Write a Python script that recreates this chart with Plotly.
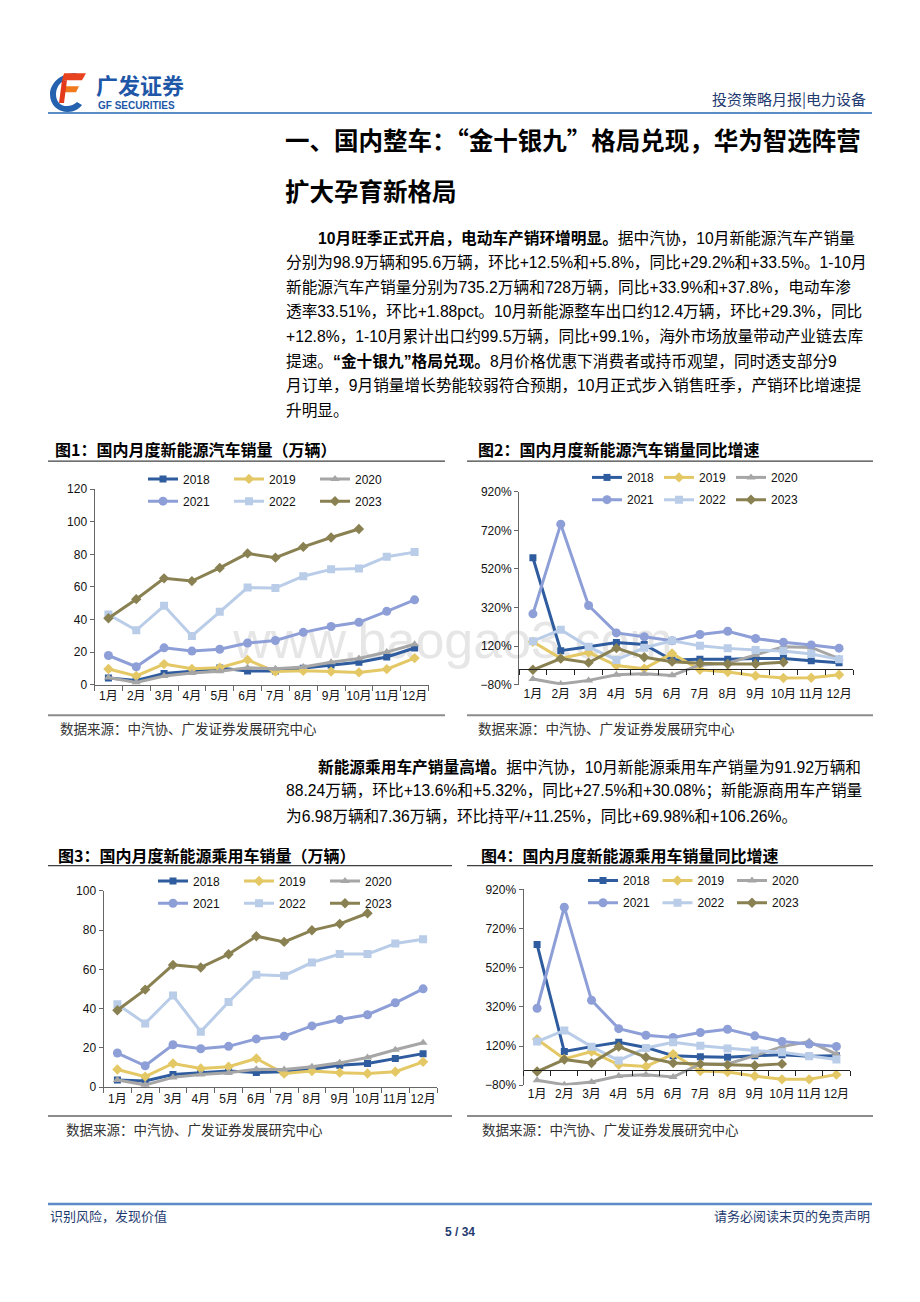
import plotly.graph_objects as go

W, H = 920, 1302          # browser window
OFF = 8                   # default page margin around the plot div
FW, FH = W - 2 * OFF, H - 2 * OFF

# ---------------- data ----------------
months = ["1月", "2月", "3月", "4月", "5月", "6月", "7月", "8月", "9月", "10月", "11月", "12月"]
years = ["2018", "2019", "2020", "2021", "2022", "2023"]

# 图1 国内月度新能源汽车销量（万辆）
nev_2018 = [4.1, 2.5, 6.8, 8.2, 10.2, 8.4, 8.4, 10.1, 12.1, 13.8, 17.0, 22.5]
nev_2019 = [9.6, 5.3, 12.6, 9.7, 10.4, 15.2, 8.0, 8.5, 8.0, 7.5, 9.5, 16.3]
nev_2020 = [4.4, 1.3, 5.3, 7.2, 8.2, 10.4, 9.8, 10.9, 13.8, 16.0, 20.0, 24.8]
nev_2021 = [17.9, 11.0, 22.6, 20.6, 21.7, 25.6, 27.1, 32.1, 35.7, 38.3, 45.0, 52.1]
nev_2022 = [43.1, 33.4, 48.4, 29.9, 44.7, 59.6, 59.3, 66.6, 70.8, 71.4, 78.6, 81.4]
nev_2023 = [40.8, 52.5, 65.3, 63.6, 71.7, 80.6, 78.0, 84.6, 90.4, 95.6]

# 图2 国内月度新能源汽车销量同比增速（%）
yoy_2018 = [578, 96, 116, 138, 128, 48, 51, 51, 56, 55, 44, 34]
yoy_2019 = [142, 56, 87, 19, 3, 82, -3, -15, -34, -46, -44, -29]
yoy_2020 = [-51, -77, -58, -29, -24, -32, 22, 31, 74, 116, 113, 55]
yoy_2021 = [287, 752, 330, 188, 168, 147, 180, 197, 159, 140, 126, 109]
yoy_2022 = [145, 205, 116, 48, 111, 147, 121, 108, 99, 94, 79, 51]
yoy_2023 = [-3, 55, 34, 109, 62, 39, 31, 27, 27, 36]

# 图3 国内月度新能源乘用车销量（万辆）
pv_2018 = [3.7, 3.2, 6.5, 7.5, 8.2, 7.5, 7.9, 9.2, 11.2, 12.1, 14.6, 17.1]
pv_2019 = [9.0, 5.4, 12.1, 9.5, 10.4, 14.6, 7.0, 8.2, 7.4, 7.0, 7.9, 12.9]
pv_2020 = [3.7, 1.2, 5.0, 6.5, 7.4, 9.2, 9.0, 10.4, 12.4, 15.1, 19.1, 22.6]
pv_2021 = [17.4, 10.9, 21.6, 19.6, 20.8, 24.6, 26.0, 31.2, 34.5, 36.9, 43.0, 50.1]
pv_2022 = [42.2, 32.5, 46.7, 28.3, 43.4, 57.3, 56.8, 63.5, 67.8, 67.8, 73.2, 75.4]
pv_2023 = [39.2, 49.7, 62.3, 61.0, 67.7, 76.9, 74.0, 79.9, 83.2, 88.6]

# 图4 国内月度新能源乘用车销量同比增速（%）
pyoy_2018 = [638, 92, 117, 139, 113, 71, 66, 63, 71, 76, 68, 71]
pyoy_2019 = [155, 54, 92, 24, 16, 79, -8, -13, -33, -50, -50, -26]
pyoy_2020 = [-55, -77, -63, -33, -26, -38, 29, 29, 71, 117, 143, 79]
pyoy_2021 = [313, 829, 354, 209, 175, 164, 189, 206, 172, 143, 130, 118]
pyoy_2022 = [143, 200, 117, 46, 110, 139, 122, 108, 97, 88, 68, 51]
pyoy_2023 = [-10, 51, 33, 117, 63, 33, 29, 24, 21, 29]

# ---------------- styles ----------------
STY = {
    "2018": dict(color="#2E5C9E", symbol="square", size=7),
    "2019": dict(color="#E4C865", symbol="diamond", size=8),
    "2020": dict(color="#A6A6A6", symbol="triangle-up", size=8),
    "2021": dict(color="#8E9FD8", symbol="circle", size=9),
    "2022": dict(color="#B9CCE8", symbol="square", size=8),
    "2023": dict(color="#8A8152", symbol="diamond", size=8),
}
LAT = "Liberation Sans, Arial, Noto Sans CJK SC, sans-serif"
CJK = "Noto Sans CJK SC, sans-serif"
AX = "#666666"
TF = dict(family=LAT, size=12, color="#111111")


def px(x):
    return (x - OFF) / FW


def py(y):
    return 1 - (y - OFF) / FH


fig = go.Figure()

# watermark (beneath the charts), on a full-page pixel axis
fig.add_trace(go.Scatter(x=[453], y=[645], mode="text", text=["www.baogao3.com"],
                         textfont=dict(family="Liberation Sans", size=52, color="#E6E6E6"),
                         xaxis="x", yaxis="y", showlegend=False, hoverinfo="skip", cliponaxis=False))

charts = [
    ("x2", "y2", [nev_2018, nev_2019, nev_2020, nev_2021, nev_2022, nev_2023], ("legend", "legend2")),
    ("x3", "y3", [yoy_2018, yoy_2019, yoy_2020, yoy_2021, yoy_2022, yoy_2023], ("legend3", "legend4")),
    ("x4", "y4", [pv_2018, pv_2019, pv_2020, pv_2021, pv_2022, pv_2023], ("legend5", "legend6")),
    ("x5", "y5", [pyoy_2018, pyoy_2019, pyoy_2020, pyoy_2021, pyoy_2022, pyoy_2023], ("legend7", "legend8")),
]
for xa, ya, series, legs in charts:
    for i, (yr, vals) in enumerate(zip(years, series)):
        s = STY[yr]
        fig.add_trace(go.Scatter(
            x=months[:len(vals)], y=vals, name=yr, mode="lines+markers",
            line=dict(color=s["color"], width=3),
            marker=dict(color=s["color"], symbol=s["symbol"], size=s["size"]),
            xaxis=xa, yaxis=ya, legend=legs[0] if i < 3 else legs[1],
            hoverinfo="skip"))

# helper traces so that the zero-line overlay axes exist
fig.add_trace(go.Scatter(x=[0], y=[None], xaxis="x6", yaxis="y3", showlegend=False, hoverinfo="skip"))
fig.add_trace(go.Scatter(x=[0], y=[None], xaxis="x7", yaxis="y5", showlegend=False, hoverinfo="skip"))

# plot areas in page pixels
D1 = dict(x=(94.5, 428.5), y=(487.5, 685.0))
D2 = dict(x=(519.0, 853.0), y=(490.0, 685.0))
D3 = dict(x=(103.5, 437.0), y=(893.5, 1092.0))
D4 = dict(x=(523.5, 850.0), y=(892.0, 1090.0))


def xdom(d):
    return [px(d["x"][0]), px(d["x"][1])]


def ydom(d):
    return [py(d["y"][1]), py(d["y"][0])]


def xcat(d, anchor, visible_line=True):
    a = dict(domain=xdom(d), type="category", categoryorder="array", categoryarray=months,
             range=[-0.5, 11.5], showgrid=False, zeroline=False, tickfont=TF, anchor=anchor,
             fixedrange=True, tickson="boundaries", tickangle=0)
    if visible_line:
        a.update(showline=True, linecolor=AX, linewidth=1, ticks="outside", ticklen=5, tickcolor=AX)
    else:
        a.update(showline=False, ticks="outside", ticklen=6, tickcolor="rgba(0,0,0,0)")
    return a


def yax(d, rng, dtick, suffix, anchor):
    return dict(domain=ydom(d), range=rng, tick0=rng[0], dtick=dtick, ticksuffix=suffix,
                showline=True, linecolor=AX, linewidth=1, ticks="outside", ticklen=4, tickcolor=AX,
                showgrid=False, zeroline=False, tickfont=TF, anchor=anchor, fixedrange=True)


def zero_axis(d, rng, overlay):
    y0p, y1p = ydom(d)
    pos = y0p + (0 - rng[0]) / (rng[1] - rng[0]) * (y1p - y0p)
    return dict(overlaying=overlay, anchor="free", position=pos, type="linear", range=[-0.5, 11.5],
                tickvals=[i - 0.5 for i in range(13)], showticklabels=False, ticks="outside", ticklen=5,
                tickcolor="#222222", showline=True, linecolor="#222222", linewidth=1.3,
                showgrid=False, zeroline=False, fixedrange=True)


R_PCT = [-80, 920]
layout = dict(
    width=FW, height=FH, margin=dict(l=0, r=0, t=0, b=0),
    paper_bgcolor="white", plot_bgcolor="rgba(0,0,0,0)", showlegend=True,
    xaxis=dict(domain=[0, 1], range=[OFF, OFF + FW], visible=False, fixedrange=True),
    yaxis=dict(domain=[0, 1], range=[OFF + FH, OFF], visible=False, fixedrange=True),
    xaxis2=xcat(D1, "y2"), yaxis2=yax(D1, [0, 120], 20, "", "x2"),
    xaxis3=xcat(D2, "y3", False), yaxis3=yax(D2, R_PCT, 200, "%", "x3"),
    xaxis4=xcat(D3, "y4"), yaxis4=yax(D3, [0, 100], 20, "", "x4"),
    xaxis5=xcat(D4, "y5", False), yaxis5=yax(D4, R_PCT, 200, "%", "x5"),
    xaxis6=zero_axis(D2, R_PCT, "x3"),
    xaxis7=zero_axis(D4, R_PCT, "x5"),
)


def leg(text_left, ycen, ew):
    # legend item text starts 40px after the legend's left edge
    return dict(x=px(text_left - 40), y=py(ycen), xanchor="left", yanchor="middle", orientation="h",
                entrywidth=ew, entrywidthmode="pixels", font=dict(family=LAT, size=12, color="#111"),
                bgcolor="rgba(0,0,0,0)", borderwidth=0, itemwidth=30, traceorder="normal",
                itemclick=False, itemdoubleclick=False)


layout.update(
    legend=leg(183, 477, 41), legend2=leg(183, 499.5, 41),
    legend3=leg(627, 475.5, 27), legend4=leg(627, 498, 27),
    legend5=leg(193, 883.5, 41), legend6=leg(193, 906, 41),
    legend7=leg(623, 883, 29.5), legend8=leg(623, 905.5, 29.5),
)
fig.update_layout(**layout)

# ---------------- text ----------------
ann = []


def txt(x, y, s, size=13, color="#000", family=CJK, xanchor="left"):
    ann.append(dict(x=px(x), y=py(y), xref="paper", yref="paper", text=s, showarrow=False,
                    xanchor=xanchor, yanchor="middle", font=dict(family=family, size=size, color=color)))


NAVY = "#1F3B70"
BLUE = "#1E57A8"
txt(94, 78, "<b>广发证券</b>", 22, BLUE, CJK)
txt(96, 99, "<b>GF SECURITIES</b>", 10, BLUE, "Liberation Sans")
txt(868, 92, "投资策略月报|电力设备", 15, NAVY, CJK, "right")

txt(283, 134, "<b>一、国内整车：“金十银九”格局兑现，华为智选阵营</b>", 24.5, "#000", CJK)
txt(283, 185, "<b>扩大孕育新格局</b>", 24.5, "#000", CJK)

para1 = [
    "<b>10月旺季正式开启，电动车产销环增明显。</b>据中汽协，10月新能源汽车产销量",
    "分别为98.9万辆和95.6万辆，环比+12.5%和+5.8%，同比+29.2%和+33.5%。1-10月",
    "新能源汽车产销量分别为735.2万辆和728万辆，同比+33.9%和+37.8%，电动车渗",
    "透率33.51%，环比+1.88pct。10月新能源整车出口约12.4万辆，环比+29.3%，同比",
    "+12.8%，1-10月累计出口约99.5万辆，同比+99.1%，海外市场放量带动产业链去库",
    "提速。<b>“金十银九”格局兑现。</b>8月价格优惠下消费者或持币观望，同时透支部分9",
    "月订单，9月销量增长势能较弱符合预期，10月正式步入销售旺季，产销环比增速提",
    "升明显。",
]
for i, line in enumerate(para1):
    txt(316 if i == 0 else 284, 233 + 25 * i, line, 15.7, "#000", LAT)

para2 = [
    "<b>新能源乘用车产销量高增。</b>据中汽协，10月新能源乘用车产销量为91.92万辆和",
    "88.24万辆，环比+13.6%和+5.32%，同比+27.5%和+30.08%；新能源商用车产销量",
    "为6.98万辆和7.36万辆，环比持平/+11.25%，同比+69.98%和+106.26%。",
]
for i, line in enumerate(para2):
    txt(316 if i == 0 else 284, 768 + 25 * i, line, 15.7, "#000", LAT)

txt(53, 447, "<b>图1：国内月度新能源汽车销量（万辆）</b>", 16, "#000", CJK)
txt(476, 447, "<b>图2：国内月度新能源汽车销量同比增速</b>", 16, "#000", CJK)
txt(56, 857, "<b>图3：国内月度新能源乘用车销量（万辆）</b>", 16, "#000", CJK)
txt(479, 857, "<b>图4：国内月度新能源乘用车销量同比增速</b>", 16, "#000", CJK)

SRC = "数据来源：中汽协、广发证券发展研究中心"
txt(58, 729, SRC, 13.5, "#333", CJK)
txt(476, 729, SRC, 13.5, "#333", CJK)
txt(64, 1134, SRC, 13.5, "#333", CJK)
txt(480, 1134, SRC, 13.5, "#333", CJK)

txt(48, 1222, "识别风险，发现价值", 13, NAVY, CJK)
txt(872, 1222, "请务必阅读末页的免责声明", 13, NAVY, CJK, "right")
txt(460, 1238, "<b>5 / 34</b>", 12, NAVY, "Liberation Sans", "center")

# ---------------- shapes ----------------
shp = []


def hline(x0, x1, y, color, width):
    shp.append(dict(type="line", xref="paper", yref="paper", x0=px(x0), x1=px(x1), y0=py(y), y1=py(y),
                    line=dict(color=color, width=width)))


def path(points_cmds, fill):
    out = []
    for c in points_cmds:
        if isinstance(c, str):
            out.append(c)
        else:
            out.append(f"{px(c[0]):.5f},{py(c[1]):.5f}")
    shp.append(dict(type="path", xref="paper", yref="paper", path=" ".join(out),
                    fillcolor=fill, line=dict(width=0)))


hline(48, 872, 107, "#5B8CC8", 2)
hline(48, 872, 1210, "#5B8CC8", 2.5)

hline(48, 445, 459, "#404040", 1.3)
hline(467, 873, 459, "#404040", 1.3)
hline(48, 445, 716, "#8C8C8C", 2)
hline(467, 873, 716, "#8C8C8C", 2)
hline(48, 452, 868, "#404040", 1.3)
hline(467, 873, 868, "#404040", 1.3)
hline(48, 452, 1121, "#8C8C8C", 2)
hline(467, 873, 1121, "#8C8C8C", 2)

# logo: blue "G" crescent and red-orange "F"
path(["M", (77, 67), "C", (61, 66), (50, 77), (50, 88), "C", (50, 99), (58, 106), (68, 106),
      "C", (74, 106), (79, 103), (82, 99), "L", (77, 96), "C", (74, 99), (71, 100), (67, 100),
      "C", (60, 100), (56, 95), (56, 88), "C", (56, 80), (62, 73), (72, 72), "Z"], "#2462B0")
path(["M", (64, 67), "L", (86, 67), "L", (82, 74), "L", (62, 74), "Z"], "#E8421E")
path(["M", (62, 80), "L", (79, 80), "L", (76, 86), "L", (61, 86), "Z"], "#F07A1E")
path(["M", (62, 74), "L", (67, 74), "L", (64, 97), "L", (59, 97), "Z"], "#E33A1C")

fig.update_layout(annotations=ann, shapes=shp)
fig.write_html("out.html")
